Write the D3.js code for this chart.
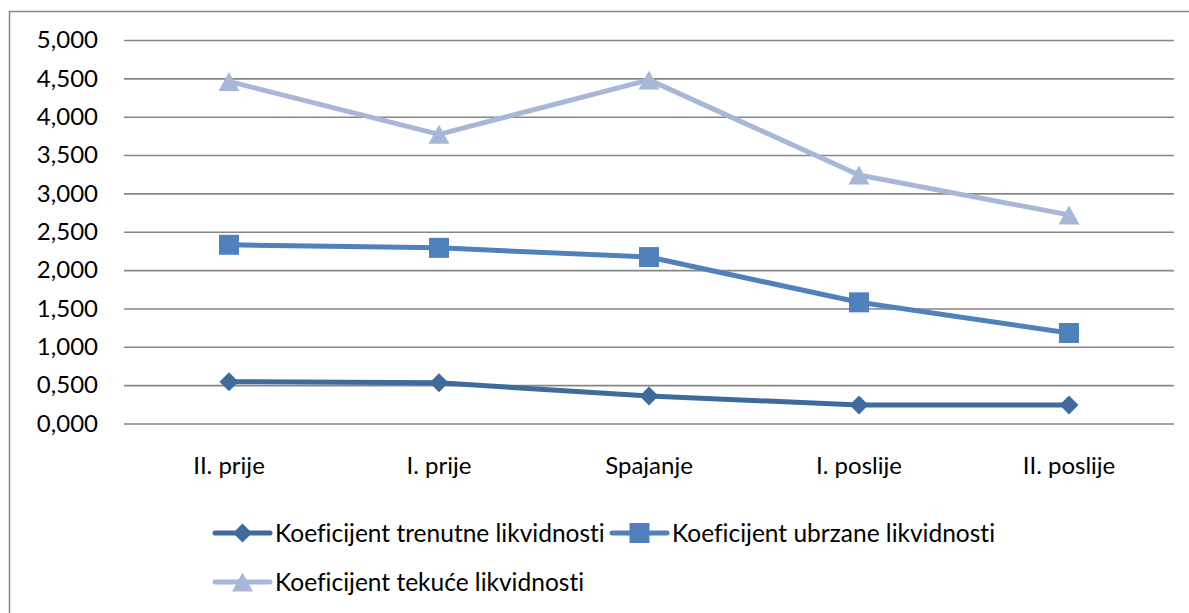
<!DOCTYPE html>
<meta charset="utf-8">
<style>
    body { margin: 0; background: #fff; }
    text { font-family: Lato, "Open Sans", sans-serif; fill: #000; font-variant-ligatures: none; }
    .grid line { stroke: #868686; stroke-width: 1.6px; }
</style>
<svg width="1189" height="613"></svg>
<script src="https://cdn.jsdelivr.net/npm/d3@7"></script>
<script>
    var categories = ["II. prije", "I. prije", "Spajanje", "I. poslije", "II. poslije"];
    var trenutne = [0.545, 0.53, 0.36, 0.24, 0.24];
    var ubrzane = [2.33, 2.29, 2.17, 1.58, 1.18];
    var tekuce = [4.46, 3.77, 4.48, 3.24, 2.72];
    var yTicks = [0, 0.5, 1, 1.5, 2, 2.5, 3, 3.5, 4, 4.5, 5];

    var seriesNames = ["Koeficijent trenutne likvidnosti", "Koeficijent ubrzane likvidnosti", "Koeficijent tekuće likvidnosti"];
    var seriesColors = ["#3F6A9E", "#4F81BD", "#A6B7D7"];

    var svg = d3.select("svg");

    // outer frame, right and bottom edges fall outside the picture
    svg.append("rect")
        .attr("x", 9.5).attr("y", 11.5)
        .attr("width", 1300).attr("height", 800)
        .attr("fill", "none").attr("stroke", "#868686").attr("stroke-width", 1.5);

    var x = d3.scaleBand().domain(categories).range([124, 1174]);
    var y = d3.scaleLinear().domain([0, 5]).range([423.5, 40]);

    var fmt = d3.formatLocale({ decimal: ",", thousands: ".", grouping: [3], currency: ["", ""] }).format(".3f");

    var yAxis = svg.append("g")
        .attr("class", "grid")
        .attr("transform", "translate(124,0)")
        .call(d3.axisLeft(y).tickValues(yTicks).tickFormat(fmt).tickSize(-1050).tickPadding(26));
    yAxis.select(".domain").remove();
    yAxis.selectAll("text").attr("font-size", 24).attr("fill", "#000");

    svg.append("g").selectAll("text")
        .data(categories)
        .enter().append("text")
        .attr("x", function (d) { return x(d) + x.bandwidth() / 2; })
        .attr("y", 466)
        .attr("dy", "0.35em")
        .attr("text-anchor", "middle")
        .attr("font-size", 24)
        .text(function (d) { return d; });

    function cx(i) { return x(categories[i]) + x.bandwidth() / 2; }

    // marker shapes
    function marker(kind) {
        if (kind === 0) return "M0,-9.5L9.5,0L0,9.5L-9.5,0Z";
        if (kind === 1) return "M-10,-10H10V10H-10Z";
        return "M0,-9.5L10.5,9.5L-10.5,9.5Z";
    }

    var allSeries = [trenutne, ubrzane, tekuce];
    var line = d3.line()
        .x(function (d, i) { return cx(i); })
        .y(function (d) { return y(d); });

    // draw in reverse so the first series sits on top
    [2, 1, 0].forEach(function (s) {
        var g = svg.append("g");
        g.append("path")
            .attr("d", line(allSeries[s]))
            .attr("fill", "none")
            .attr("stroke", seriesColors[s])
            .attr("stroke-width", 5)
            .attr("stroke-linejoin", "round");
        g.selectAll("path.m")
            .data(allSeries[s])
            .enter().append("path")
            .attr("class", "m")
            .attr("d", marker(s))
            .attr("fill", seriesColors[s])
            .attr("transform", function (d, i) { return "translate(" + cx(i) + "," + y(d) + ")"; });
    });

    // legend
    var legendPos = [[215, 533], [612, 533], [215, 582]];
    legendPos.forEach(function (p, s) {
        var g = svg.append("g").attr("transform", "translate(" + p[0] + "," + p[1] + ")");
        g.append("line")
            .attr("x1", 0).attr("x2", 55)
            .attr("stroke", seriesColors[s]).attr("stroke-width", 5)
            .attr("stroke-linecap", "round");
        g.append("path")
            .attr("d", marker(s))
            .attr("fill", seriesColors[s])
            .attr("transform", "translate(27.5,0)");
        g.append("text")
            .attr("x", 60)
            .attr("dy", "0.35em")
            .attr("font-size", 24.5)
            .text(seriesNames[s]);
    });
</script>
